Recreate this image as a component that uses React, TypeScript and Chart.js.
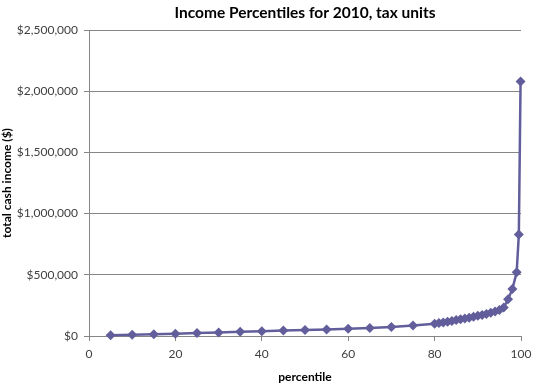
import React, { useEffect, useRef } from "react";
import { Chart, registerables } from "chart.js";

Chart.register(...registerables);

const percentiles = [
  5, 10, 15, 20, 25, 30, 35, 40, 45, 50, 55, 60, 65, 70, 75,
  80, 81, 82, 83, 84, 85, 86, 87, 88, 89, 90, 91, 92, 93, 94, 95, 96, 97, 98, 99,
  99.5, 99.9,
];
const incomes = [
  6000, 10000, 15000, 19000, 24000, 29000, 34000, 39000, 44000, 49000, 54000, 60000, 66000, 74000, 85000,
  100000, 106000, 111000, 117000, 123000, 130000, 136000, 143000, 150000, 157000, 165000, 172000, 180000,
  190000, 200000, 213000, 232000, 300000, 383000, 521000,
  830000, 2080000,
];
const titleText = "Income Percentiles for 2010, tax units";
const xTitle = "percentile";
const yTitle = "total cash income ($)";

const FONT = "Lato";
const SERIES = "#615e9b";
const GRID = "#868686";
const TICK = "#404040";

export default function App() {
  const ref = useRef<HTMLCanvasElement | null>(null);
  useEffect(() => {
    if (!ref.current) return;
    const titlePlugin = {
      id: "customTitle",
      afterDraw(chart: any) {
        const { ctx, chartArea } = chart;
        ctx.save();
        ctx.font = `bold 15.5px ${FONT}`;
        ctx.fillStyle = "#000";
        ctx.textAlign = "center";
        ctx.textBaseline = "middle";
        ctx.fillText(titleText, (chartArea.left + chartArea.right) / 2, 13);
        ctx.restore();
      },
    };
    const chart = new Chart(ref.current, {
      type: "scatter",
      data: {
        datasets: [
          {
            data: percentiles.map((p, i) => ({ x: p, y: incomes[i] })),
            showLine: true,
            borderColor: SERIES,
            backgroundColor: SERIES,
            borderWidth: 2.5,
            pointStyle: "rectRot",
            pointRadius: 5,
            pointBorderWidth: 0,
            clip: false as any,
          },
        ],
      },
      options: {
        responsive: false,
        animation: false,
        devicePixelRatio: 1,
        layout: { padding: { top: 30, right: 12, left: 0, bottom: 0 } },
        plugins: { legend: { display: false }, tooltip: { enabled: false }, title: { display: false } },
        scales: {
          x: {
            type: "linear",
            min: 0,
            max: 100,
            ticks: { stepSize: 20, color: TICK, font: { family: FONT, size: 12 }, padding: 6 },
            grid: { drawOnChartArea: false, tickLength: 5, color: GRID },
            border: { color: GRID },
            title: {
              display: true,
              text: xTitle,
              color: "#000",
              font: { family: FONT, size: 12, weight: "bold" },
              padding: { top: 6 },
            },
            afterFit: (s: any) => {
              s.height = 52;
              s.paddingLeft = 0;
              s.paddingRight = 0;
            },
          },
          y: {
            min: 0,
            max: 2500000,
            ticks: {
              stepSize: 500000,
              color: TICK,
              font: { family: FONT, size: 12 },
              padding: 6,
              callback: (v: any) => "$" + Number(v).toLocaleString("en-US"),
            },
            grid: { color: GRID, tickLength: 5 },
            border: { color: GRID },
            title: {
              display: true,
              text: yTitle,
              color: "#000",
              font: { family: FONT, size: 12, weight: "bold" },
              padding: { top: 0, bottom: 0 },
            },
            afterFit: (s: any) => {
              s.width = 89;
            },
          },
        },
      },
      plugins: [titlePlugin],
    });
    return () => chart.destroy();
  }, []);
  return (
    <div style={{ position: "fixed", left: 0, top: 0, width: 533, height: 388, background: "#fff" }}>
      <canvas ref={ref} width={533} height={388} />
    </div>
  );
}
